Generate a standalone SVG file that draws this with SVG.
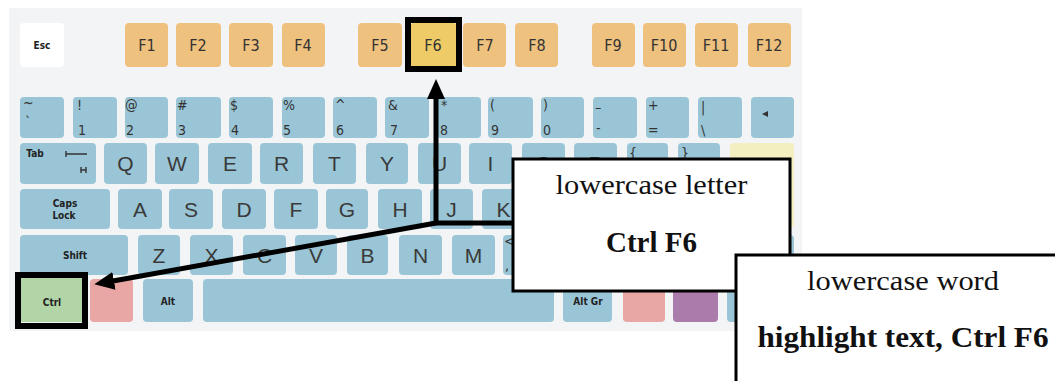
<svg xmlns="http://www.w3.org/2000/svg" width="1055" height="381" viewBox="0 0 1055 381">
<defs>
<style>
.k{fill:#99c5d6}
.fk{fill:#eec17e}
.pk{fill:#e8a6a4}
.pu{fill:#ab7bab}
.L{font-family:"Liberation Sans",Arial,sans-serif;font-size:21px;fill:#3a3a3a;text-anchor:middle}
.F{font-family:"DejaVu Sans",sans-serif;font-stretch:condensed;font-size:16px;fill:#333;text-anchor:middle}
.S{font-family:"DejaVu Sans",sans-serif;font-stretch:condensed;font-size:14px;fill:#333}
.sm{font-family:"DejaVu Sans",sans-serif;font-stretch:condensed;font-weight:bold;font-size:10px;fill:#222;text-anchor:middle}
.box{fill:#fff;stroke:#000;stroke-width:3}
.t1{font-family:"Liberation Serif","Times New Roman",serif;font-size:27px;fill:#111;text-anchor:middle}
.t2{font-family:"Liberation Serif","Times New Roman",serif;font-size:29px;font-weight:bold;fill:#111;text-anchor:middle}
.hl{fill:none;stroke:#000;stroke-width:6}
.con{fill:none;stroke:#000;stroke-width:5}
</style>
<marker id="ah" viewBox="0 0 20 18" refX="1" refY="9" markerWidth="20" markerHeight="18" markerUnits="userSpaceOnUse" orient="auto">
<path d="M0,0 L20,9 L0,18 z" fill="#000"/>
</marker>
</defs>

<g id="keyboard">
<rect x="9" y="8" width="793" height="323" fill="#f3f4f6"/>

<g id="row-f">
<rect x="20" y="23" width="44" height="44" rx="4" fill="#fff"/><text class="sm" x="42" y="49">Esc</text>
<rect class="fk" x="125" y="23" width="43" height="44" rx="4"/><text class="F" x="147" y="51">F1</text>
<rect class="fk" x="176" y="23" width="45" height="44" rx="4"/><text class="F" x="198" y="51">F2</text>
<rect class="fk" x="229" y="23" width="44" height="44" rx="4"/><text class="F" x="251" y="51">F3</text>
<rect class="fk" x="282" y="23" width="43" height="44" rx="4"/><text class="F" x="303" y="51">F4</text>
<rect class="fk" x="358" y="23" width="44" height="44" rx="4"/><text class="F" x="380" y="51">F5</text>
<rect x="411" y="23" width="45" height="44" rx="2" fill="#eecb66"/><text class="F" x="433" y="51" fill="#555">F6</text>
<rect class="fk" x="463" y="23" width="43" height="44" rx="4"/><text class="F" x="485" y="51">F7</text>
<rect class="fk" x="515" y="23" width="43" height="44" rx="4"/><text class="F" x="537" y="51">F8</text>
<rect class="fk" x="592" y="23" width="43" height="44" rx="4"/><text class="F" x="613" y="51">F9</text>
<rect class="fk" x="643" y="23" width="43" height="44" rx="4"/><text class="F" x="664" y="51">F10</text>
<rect class="fk" x="695" y="23" width="43" height="44" rx="4"/><text class="F" x="716" y="51">F11</text>
<rect class="fk" x="748" y="23" width="43" height="44" rx="4"/><text class="F" x="769" y="51">F12</text>
</g>

<g id="row-num">
<rect class="k" x="20" y="97" width="44" height="41" rx="4"/><text class="S" x="23" y="108" font-size="10">~</text><text class="S" x="25" y="127" font-size="10">`</text>
<rect class="k" x="73" y="97" width="44" height="41" rx="4"/><text class="S" x="77" y="110">!</text><text class="S" x="78" y="135">1</text>
<rect class="k" x="125" y="97" width="43" height="41" rx="4"/><text class="S" x="125" y="110">@</text><text class="S" x="126" y="135">2</text>
<rect class="k" x="176" y="97" width="45" height="41" rx="4"/><text class="S" x="177" y="110">#</text><text class="S" x="178" y="135">3</text>
<rect class="k" x="229" y="97" width="44" height="41" rx="4"/><text class="S" x="230" y="110">$</text><text class="S" x="231" y="135">4</text>
<rect class="k" x="282" y="97" width="43" height="41" rx="4"/><text class="S" x="283" y="110">%</text><text class="S" x="283" y="135">5</text>
<rect class="k" x="333" y="97" width="44" height="41" rx="4"/><text class="S" x="335" y="110" font-size="11">^</text><text class="S" x="336" y="135">6</text>
<rect class="k" x="385" y="97" width="44" height="41" rx="4"/><text class="S" x="388" y="110">&amp;</text><text class="S" x="390" y="135">7</text>
<rect class="k" x="437" y="97" width="44" height="41" rx="4"/><text class="S" x="441" y="110">*</text><text class="S" x="440" y="135">8</text>
<rect class="k" x="488" y="97" width="45" height="41" rx="4"/><text class="S" x="490" y="110">(</text><text class="S" x="491" y="135">9</text>
<rect class="k" x="541" y="97" width="43" height="41" rx="4"/><text class="S" x="543" y="110">)</text><text class="S" x="543" y="135">0</text>
<rect class="k" x="593" y="97" width="44" height="41" rx="4"/><text class="S" x="595" y="112">–</text><text class="S" x="596" y="133">-</text>
<rect class="k" x="646" y="97" width="43" height="41" rx="4"/><text class="S" x="648" y="110">+</text><text class="S" x="648" y="135">=</text>
<rect class="k" x="698" y="97" width="44" height="41" rx="4"/><text class="S" x="701" y="112">|</text><text class="S" x="701" y="135">\</text>
<rect class="k" x="751" y="97" width="43" height="41" rx="4"/><path d="M762,114 L768,111 L768,117 z" fill="#333"/>
</g>

<g id="row-q">
<rect class="k" x="20" y="143" width="76" height="41" rx="4"/><text class="sm" x="35" y="157">Tab</text>
<path d="M66,151 V157 M66,154 H87 M81,167 V173 M81,170 H86 M86,167 V173" stroke="#333" stroke-width="1.4" fill="none"/>
<rect class="k" x="104" y="143" width="43" height="41" rx="4"/><text class="L" x="125.5" y="171">Q</text>
<rect class="k" x="155" y="143" width="44" height="41" rx="4"/><text class="L" x="177" y="171">W</text>
<rect class="k" x="208" y="143" width="44" height="41" rx="4"/><text class="L" x="230" y="171">E</text>
<rect class="k" x="260" y="143" width="43" height="41" rx="4"/><text class="L" x="281.5" y="171">R</text>
<rect class="k" x="313" y="143" width="43" height="41" rx="4"/><text class="L" x="334.5" y="171">T</text>
<rect class="k" x="366" y="143" width="42" height="41" rx="4"/><text class="L" x="387" y="171">Y</text>
<rect class="k" x="418" y="143" width="43" height="41" rx="4"/><text class="L" x="439.5" y="171">U</text>
<rect class="k" x="469" y="143" width="43" height="41" rx="4"/><text class="L" x="490.5" y="171">I</text>
<rect class="k" x="522" y="143" width="43" height="41" rx="4"/><text class="L" x="543.5" y="171">O</text>
<rect class="k" x="574" y="143" width="43" height="41" rx="4"/><text class="L" x="595.5" y="171">P</text>
<rect class="k" x="627" y="143" width="41" height="41" rx="4"/><text class="S" x="629" y="158">{</text>
<rect class="k" x="678" y="143" width="42" height="41" rx="4"/><text class="S" x="681" y="158">}</text>
<rect x="730" y="143" width="64" height="85" rx="4" fill="#f3efc0"/>
</g>

<g id="row-a">
<rect class="k" x="20" y="189" width="90" height="40" rx="4"/><text class="sm" x="65" y="207">Caps</text><text class="sm" x="64" y="219">Lock</text>
<rect class="k" x="118" y="189" width="44" height="40" rx="4"/><text class="L" x="140" y="217">A</text>
<rect class="k" x="169" y="189" width="44" height="40" rx="4"/><text class="L" x="191" y="217">S</text>
<rect class="k" x="222" y="189" width="44" height="40" rx="4"/><text class="L" x="244" y="217">D</text>
<rect class="k" x="274" y="189" width="44" height="40" rx="4"/><text class="L" x="296" y="217">F</text>
<rect class="k" x="326" y="189" width="42" height="40" rx="4"/><text class="L" x="347" y="217">G</text>
<rect class="k" x="378" y="189" width="44" height="40" rx="4"/><text class="L" x="400" y="217">H</text>
<rect class="k" x="430" y="189" width="43" height="40" rx="4"/><text class="L" x="451.5" y="217">J</text>
<rect class="k" x="482" y="189" width="43" height="40" rx="4"/><text class="L" x="503.5" y="217">K</text>
<rect class="k" x="534" y="189" width="43" height="40" rx="4"/>
<rect class="k" x="586" y="189" width="43" height="40" rx="4"/>
<rect class="k" x="638" y="189" width="43" height="40" rx="4"/>
<rect class="k" x="690" y="189" width="34" height="40" rx="4"/>
</g>

<g id="row-z">
<rect class="k" x="20" y="235" width="108" height="40" rx="4"/><text class="sm" x="75" y="259">Shift</text>
<rect class="k" x="138" y="235" width="42" height="40" rx="4"/><text class="L" x="159" y="263">Z</text>
<rect class="k" x="190" y="235" width="43" height="40" rx="4"/><text class="L" x="211.5" y="263">X</text>
<rect class="k" x="243" y="235" width="43" height="40" rx="4"/><text class="L" x="264.5" y="263">C</text>
<rect class="k" x="295" y="235" width="42" height="40" rx="4"/><text class="L" x="316" y="263">V</text>
<rect class="k" x="347" y="235" width="41" height="40" rx="4"/><text class="L" x="367.5" y="263">B</text>
<rect class="k" x="399" y="235" width="43" height="40" rx="4"/><text class="L" x="420.5" y="263">N</text>
<rect class="k" x="452" y="235" width="43" height="40" rx="4"/><text class="L" x="473.5" y="263">M</text>
<rect class="k" x="503" y="235" width="43" height="40" rx="4"/><text class="S" x="504" y="246" font-size="11">&lt;</text><text class="S" x="505" y="270" font-size="11">,</text>
<rect class="k" x="555" y="235" width="43" height="40" rx="4"/>
<rect class="k" x="607" y="235" width="43" height="40" rx="4"/>
<rect class="k" x="659" y="235" width="135" height="40" rx="4"/>
</g>

<g id="row-bottom">
<rect x="21" y="278" width="61" height="44" fill="#b2d5a7"/><text class="sm" x="52" y="306" fill="#4a4a22">Ctrl</text>
<rect class="pk" x="90" y="279" width="43" height="43" rx="4"/>
<rect class="k" x="143" y="279" width="50" height="43" rx="4"/><text class="sm" x="168" y="305">Alt</text>
<rect class="k" x="203" y="279" width="351" height="43" rx="4"/>
<rect class="k" x="563" y="279" width="49" height="43" rx="4"/><text class="sm" x="588" y="305">Alt Gr</text>
<rect class="pk" x="623" y="279" width="42" height="43" rx="4"/>
<rect class="pu" x="673" y="279" width="45" height="43" rx="4"/>
<rect class="k" x="727" y="279" width="67" height="43" rx="4"/>
</g>
</g>

<g id="highlight-f6"><rect class="hl" x="408" y="20" width="51" height="49"/></g>
<g id="highlight-ctrl"><rect class="hl" x="18" y="275" width="67" height="51"/></g>

<g id="connectors">
<path class="con" d="M514,223 H436 V98" marker-end="url(#ah)"/>
<path class="con" d="M436,223 L113,281" marker-end="url(#ah)"/>
</g>

<g id="callout-letter">
<rect class="box" x="513" y="159" width="277" height="132"/>
<text class="t1" x="651.5" y="194" textLength="192" lengthAdjust="spacingAndGlyphs">lowercase letter</text>
<text class="t2" x="651.5" y="252" textLength="91" lengthAdjust="spacingAndGlyphs">Ctrl F6</text>
</g>

<g id="callout-word">
<rect class="box" x="736" y="255" width="340" height="140"/>
<text class="t1" x="903" y="290" textLength="192" lengthAdjust="spacingAndGlyphs">lowercase word</text>
<text class="t2" x="903" y="347" textLength="291" lengthAdjust="spacingAndGlyphs">highlight text, Ctrl F6</text>
</g>
</svg>
